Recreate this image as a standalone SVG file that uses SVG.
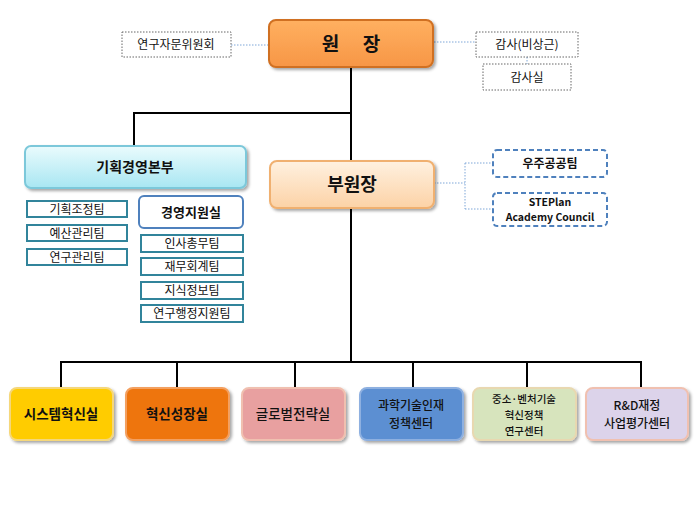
<svg xmlns="http://www.w3.org/2000/svg" width="700" height="525" viewBox="0 0 700 525">
<defs>
<linearGradient id="gOr" x1="0" y1="0" x2="0" y2="1"><stop offset="0" stop-color="#FFB060"/><stop offset="1" stop-color="#F79646"/></linearGradient>
<linearGradient id="gPe" x1="0" y1="0" x2="0" y2="1"><stop offset="0" stop-color="#FFF1E0"/><stop offset="1" stop-color="#FCD2A6"/></linearGradient>
<linearGradient id="gCy" x1="0" y1="0" x2="0" y2="1"><stop offset="0" stop-color="#EAFBFD"/><stop offset="1" stop-color="#A8E6F2"/></linearGradient>
<filter id="sh" x="-10%" y="-10%" width="130%" height="140%"><feDropShadow dx="2" dy="2" stdDeviation="1.5" flood-color="#000" flood-opacity="0.35"/></filter>
</defs>
<style>
text{font-family:"Noto Sans CJK KR","Noto Sans",sans-serif;text-anchor:middle;fill:#111}
.dot{fill:#fff;stroke:#666;stroke-dasharray:1.5 1.5;stroke-width:1}
.team{fill:#fff;stroke:#31849B;stroke-width:2}
.blu{fill:#fff;stroke:#4F81BD;stroke-width:2;stroke-dasharray:5 3}
.s{font-size:12px}
.b{font-weight:bold}
.m{font-weight:500;font-size:13.5px}
.m2{font-weight:500;font-size:12px}
.m3{font-weight:500;font-size:10.5px}
.big{fill:none;stroke:#000;stroke-width:2}
.thin{fill:none;stroke:#7FA7D8;stroke-width:1;stroke-dasharray:1.5 1.5}
.unit{stroke-width:2;filter:url(#sh)}
</style>
<g id="connectors">
<path class="big" d="M351 68V362M351 113H134V146M61 388V362H641V388M177 362V388M295 362V388M413 362V388M527 362V388"/>
<path class="thin" d="M231 45H269M434 42H476M527 57V64M434 183H465M465 163V209M465 163H493M465 209H493"/>
</g>
<g id="wonjang"><rect x="269" y="20" width="164" height="47" rx="7" fill="url(#gOr)" stroke="#D07020" stroke-width="2" filter="url(#sh)"/><text x="351" y="51" font-size="19" class="b">원 　장</text></g>
<g id="advisory"><rect class="dot" x="122" y="32" width="109" height="25"/><text class="s" x="176" y="49">연구자문위원회</text></g>
<g id="auditor"><rect class="dot" x="476" y="32" width="102" height="25"/><text class="s" x="527" y="49">감사(비상근)</text></g>
<g id="auditoffice"><rect class="dot" x="483" y="64" width="88" height="26"/><text class="s" x="527" y="82">감사실</text></g>
<g id="planning"><rect x="25" y="146" width="221" height="42" rx="6" fill="url(#gCy)" stroke="#7CC8DA" stroke-width="2" filter="url(#sh)"/><text x="135" y="172" font-size="14" class="b">기획경영본부</text></g>
<g id="vice"><rect x="270" y="161" width="164" height="47" rx="7" fill="url(#gPe)" stroke="#F0B070" stroke-width="2" filter="url(#sh)"/><text x="352" y="191" font-size="18" class="b">부원장</text></g>
<g id="space"><rect class="blu" x="493" y="150" width="114" height="27" rx="4"/><text x="550" y="168" font-size="12" class="b">우주공공팀</text></g>
<g id="steplan"><rect class="blu" x="493" y="193" width="114" height="33" rx="4"/><text x="550" y="206" font-size="10.5" class="b">STEPlan</text><text x="550" y="221" font-size="10.5" class="b">Academy Council</text></g>
<g id="t1"><rect class="team" x="27" y="201" width="100" height="16"/><text class="s" x="77" y="214">기획조정팀</text></g>
<g id="t2"><rect class="team" x="27" y="225" width="100" height="16"/><text class="s" x="77" y="238">예산관리팀</text></g>
<g id="t3"><rect class="team" x="27" y="249" width="100" height="16"/><text class="s" x="77" y="262">연구관리팀</text></g>
<g id="mgmt"><rect x="139" y="196" width="104" height="32" rx="5" fill="#fff" stroke="#4F81BD" stroke-width="2"/><text x="191" y="217" font-size="13" class="b">경영지원실</text></g>
<g id="t4"><rect class="team" x="141" y="235" width="102" height="17"/><text class="s" x="192" y="248">인사총무팀</text></g>
<g id="t5"><rect class="team" x="141" y="258" width="102" height="17"/><text class="s" x="192" y="271">재무회계팀</text></g>
<g id="t6"><rect class="team" x="141" y="282" width="102" height="17"/><text class="s" x="192" y="295">지식정보팀</text></g>
<g id="t7"><rect class="team" x="141" y="305" width="102" height="17"/><text class="s" x="192" y="318">연구행정지원팀</text></g>
<g id="u1"><rect class="unit" x="10" y="388" width="103" height="52" rx="7" fill="#FFCC00" stroke="#F5D77A"/><text x="61" y="419" font-size="13.5" class="b">시스템혁신실</text></g>
<g id="u2"><rect class="unit" x="126" y="388" width="103" height="52" rx="7" fill="#EE7410" stroke="#F3A060"/><text x="177" y="419" font-size="13.5" class="b">혁신성장실</text></g>
<g id="u3"><rect class="unit" x="242" y="388" width="103" height="52" rx="7" fill="#E8A0A0" stroke="#F0C0B0"/><text class="m" x="293" y="419">글로벌전략실</text></g>
<g id="u4"><rect class="unit" x="360" y="388" width="103" height="52" rx="7" fill="#5B8FD2" stroke="#8EB0E0"/><text class="m2" x="411" y="410">과학기술인재</text><text class="m2" x="411" y="428">정책센터</text></g>
<g id="u5"><rect class="unit" x="473" y="388" width="103" height="52" rx="7" fill="#D7E4BD" stroke="#E8D8B0"/><text class="m3" x="524" y="403">중소·벤처기술</text><text class="m3" x="524" y="419">혁신정책</text><text class="m3" x="524" y="435">연구센터</text></g>
<g id="u6"><rect class="unit" x="586" y="388" width="102" height="52" rx="7" fill="#DCD3EA" stroke="#F0C0B0"/><text class="m2" x="637" y="410">R&amp;D재정</text><text class="m2" x="637" y="428">사업평가센터</text></g>
</svg>
